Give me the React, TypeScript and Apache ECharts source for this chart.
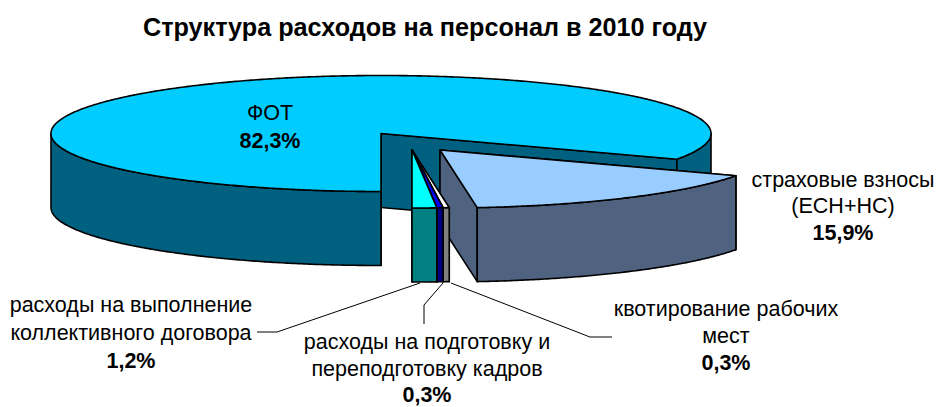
import React, { useEffect, useRef } from "react";
import * as echarts from "echarts";

const titleText = "Структура расходов на персонал в 2010 году";
const sliceNames = ["ФОТ", "страховые взносы (ЕСН+НС)", "квотирование рабочих мест", "расходы на подготовку и переподготовку кадров", "расходы на выполнение коллективного договора"];
const sliceValues = [82.3, 15.9, 0.3, 0.3, 1.2];
const percentLabels = ["82,3%", "15,9%", "0,3%", "0,3%", "1,2%"];
const nameLines = [
  ["ФОТ"],
  ["страховые взносы", "(ЕСН+НС)"],
  ["квотирование рабочих", "мест"],
  ["расходы на подготовку и", "переподготовку кадров"],
  ["расходы на выполнение", "коллективного договора"],
];
const topColors = ["#00CCFF", "#99CCFF", "#FFFFFF", "#0000FF", "#00FFFF"];
const sideColors = ["#006080", "#4F6380", "#808080", "#000080", "#008080"];

// drawing geometry of the tilted pie
const CX = 381, CY = 133.5, RX = 330, RY = 58, DEPTH = 74;
const START = 180; // compass angle of the first slice
const EXPLODE = [[0, 0], [59, 16.5], [31, 16.5], [31, 16.5], [31, 16.5]];
const LABEL_POS = [
  { x: 270, y: [113], py: 141 },
  { x: 843, y: [180, 206], py: 233 },
  { x: 726, y: [309, 336], py: 363 },
  { x: 427, y: [342, 369], py: 395 },
  { x: 131, y: [305, 333], py: 361 },
];
const LEADERS = [
  null,
  null,
  [[451, 283], [590, 337], [612, 337]],
  [[443, 283], [424, 305], [424, 324]],
  [[420, 283], [277, 332], [257, 332]],
];
const FONT = "'Liberation Sans', Arial, sans-serif";
const FS = 21.5;

function pt(ox: number, oy: number, deg: number, dz = 0) {
  const r = (deg * Math.PI) / 180;
  return [ox + RX * Math.sin(r), oy - RY * Math.cos(r) + dz];
}
function arc(ox: number, oy: number, a: number, b: number, dz = 0) {
  const pts: number[][] = [];
  const n = Math.max(2, Math.ceil((b - a) / 0.5));
  for (let i = 0; i <= n; i++) pts.push(pt(ox, oy, a + ((b - a) * i) / n, dz));
  return pts;
}

const stroke = { stroke: "#000", lineWidth: 1.6, lineJoin: "round" as const };

function renderSlice(params: any, api: any) {
  const i = params.dataIndex;
  const total = sliceValues.reduce((s, v) => s + v, 0);
  const before = sliceValues.slice(0, i).reduce((s, v) => s + v, 0);
  const a = START + (before / total) * 360;
  const b = a + (api.value(0) / total) * 360;
  const ox = CX + EXPLODE[i][0];
  const oy = CY + EXPLODE[i][1];
  const children: any[] = [];
  const poly = (points: number[][], fill: string) =>
    children.push({ type: "polygon", shape: { points }, style: { fill, ...stroke } });

  // walls (hidden one first)
  for (const ang of [a, b]) {
    const e = pt(ox, oy, ang);
    poly([[ox, oy], e, [e[0], e[1] + DEPTH], [ox, oy + DEPTH]], sideColors[i]);
  }
  // outer rim, front-facing parts only
  for (const [lo, hi] of [[90, 270], [450, 630]]) {
    const s = Math.max(a, lo), t = Math.min(b, hi);
    if (t > s) {
      poly([...arc(ox, oy, s, t), ...arc(ox, oy, s, t, DEPTH).reverse()], sideColors[i]);
    }
  }
  // top face
  poly([[ox, oy], ...arc(ox, oy, a, b)], topColors[i]);

  // leader
  const l = LEADERS[i];
  if (l) children.push({ type: "polyline", shape: { points: l }, style: { fill: "none", stroke: "#000", lineWidth: 1 }, z2: 10 });

  // labels
  const pos = LABEL_POS[i];
  nameLines[i].forEach((txt, k) => {
    children.push({
      type: "text", z2: 20,
      style: { x: pos.x, y: pos.y[k], text: txt, fill: "#000", font: `${FS}px ${FONT}`, align: "center", verticalAlign: "middle" },
    });
  });
  children.push({
    type: "text", z2: 20,
    style: { x: pos.x, y: pos.py, text: percentLabels[i], fill: "#000", font: `bold ${FS}px ${FONT}`, align: "center", verticalAlign: "middle" },
  });
  return { type: "group", children };
}

export default function App() {
  const ref = useRef<HTMLDivElement>(null);
  useEffect(() => {
    const chart = echarts.init(ref.current!, null, { renderer: "svg" });
    chart.setOption({
      animation: false,
      backgroundColor: "#fff",
      title: {
        text: titleText, left: 420, top: 9, textAlign: "center",
        textStyle: { fontFamily: FONT, fontSize: 25.2, fontWeight: "bold", color: "#000" },
      },
      series: [{
        type: "custom",
        coordinateSystem: "none",
        clip: false,
        silent: true,
        renderItem: renderSlice,
        data: sliceValues.map((value, k) => ({ name: sliceNames[k], value: [value] })),
      }],
    });
    return () => chart.dispose();
  }, []);
  return <div ref={ref} style={{ position: "absolute", left: 0, top: 0, width: 937, height: 407 }} />;
}
